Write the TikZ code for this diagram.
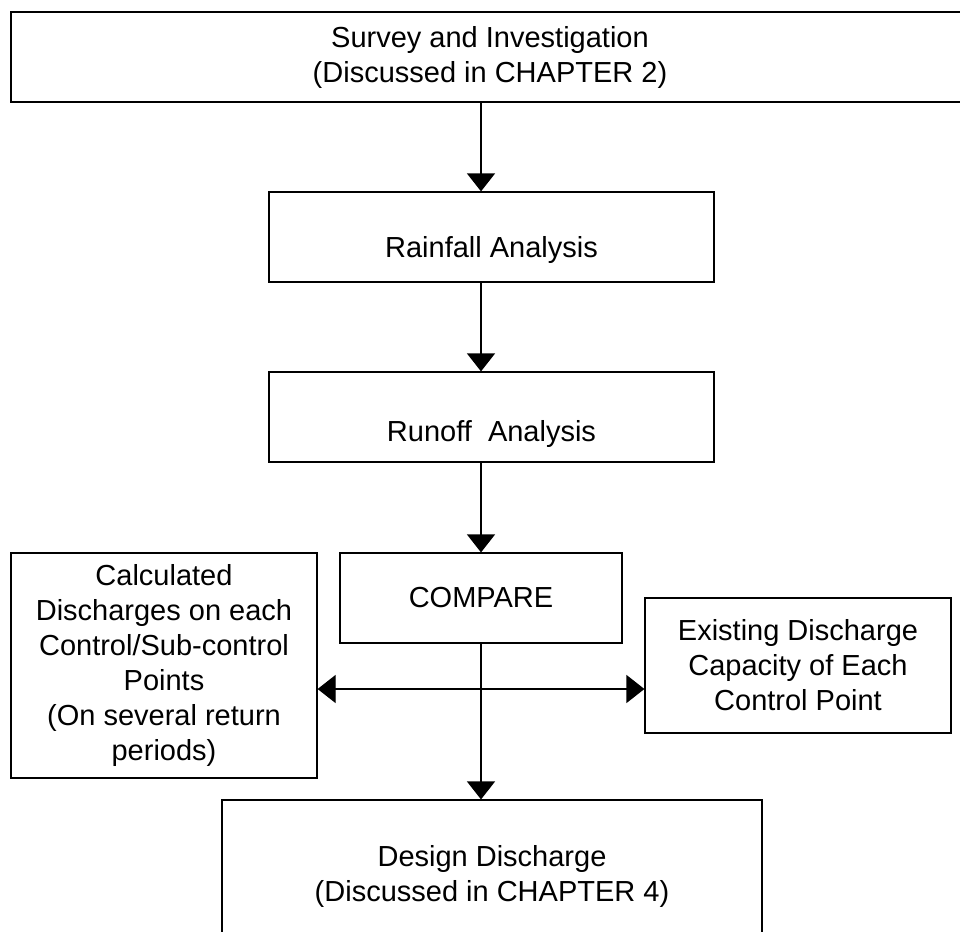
\documentclass[tikz,border=0pt]{standalone}
\usepackage{fontspec}
\setmainfont{Liberation Sans}
\usetikzlibrary{arrows.meta}

\begin{document}
\begin{tikzpicture}[x=1pt, y=-1pt,
    box/.style={draw, line width=1.2pt, align=center, inner sep=0pt,
      font=\fontsize{29pt}{35pt}\selectfont},
    low/.style={text height=#1, text depth=0pt},
    arr/.style={line width=1.2pt, -{Triangle[width=28pt,length=18pt]}},
    dbl/.style={line width=1.2pt, {Triangle[width=28pt,length=18pt]}-{Triangle[width=28pt,length=18pt]}}]

  \clip (0,0) rectangle (960,931);

  \node[box, minimum width=958pt, minimum height=90pt] (survey) at (490,57)
    {Survey and Investigation\\(Discussed in CHAPTER 2)};
  \node[box, low=41pt, minimum width=445pt, minimum height=90pt] (rain) at (491.5,237) {Rainfall Analysis};
  \node[box, low=49pt, minimum width=445pt, minimum height=90pt] (runoff) at (491.5,417) {Runoff~ Analysis};
  \node[box, minimum width=282pt, minimum height=90pt] (comp) at (481,598) {COMPARE};
  \node[box, minimum width=306pt, minimum height=225pt] (calc) at (164,665.5)
    {Calculated\\Discharges on each\\Control/Sub-control\\Points\\(On several return\\periods)};
  \node[box, minimum width=306pt, minimum height=135pt] (exist) at (798,665.5)
    {Existing Discharge\\Capacity of Each\\Control Point};
  \node[box, minimum width=540pt, minimum height=152pt] (design) at (492,876)
    {Design Discharge\\(Discussed in CHAPTER 4)};

  \draw[arr] (survey.south -| comp) -- (rain.north -| comp);
  \draw[arr] (rain.south -| comp) -- (runoff.north -| comp);
  \draw[arr] (runoff.south -| comp) -- (comp.north);
  \draw[arr] (comp.south) -- (comp.south |- design.north);

  \coordinate (cross) at (481,689);
  \draw[dbl] (cross -| calc.east) -- (cross -| exist.west);

\end{tikzpicture}
\end{document}
